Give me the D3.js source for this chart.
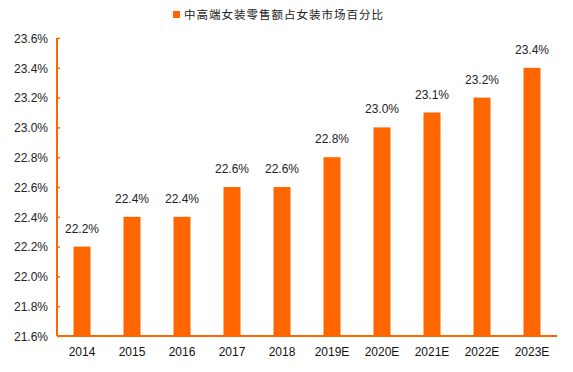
<!DOCTYPE html>
<html>
<head>
<meta charset="utf-8">
<script src="https://cdn.jsdelivr.net/npm/d3@7"></script>
<style>
  body { margin: 0; background: #fff; }
  svg text { font-family: "Liberation Sans", Arial, sans-serif; }
</style>
</head>
<body>
<div class="chart"></div>
<script>
var years = ['2014', '2015', '2016', '2017', '2018', '2019E', '2020E', '2021E', '2022E', '2023E']
var shares = [22.2, 22.4, 22.4, 22.6, 22.6, 22.8, 23.0, 23.1, 23.2, 23.4]
var yTicks = [21.6, 21.8, 22.0, 22.2, 22.4, 22.6, 22.8, 23.0, 23.2, 23.4, 23.6]
var seriesName = '中高端女装零售额占女装市场百分比'

var orange = '#ff6600'
var width = 573, height = 372
var margin = {left: 57, right: 16, top: 38, bottom: 36}

var svg = d3.select('.chart').append('svg')
  .attr('width', width).attr('height', height)

var x = d3.scaleBand()
  .domain(years)
  .range([margin.left, width - margin.right])
  .paddingInner(0.66).paddingOuter(0.33)

var y = d3.scaleLinear()
  .domain([21.6, 23.6])
  .range([height - margin.bottom, margin.top])

var fmt = d => d.toFixed(1) + '%'

// y axis
var yAxis = svg.append('g')
  .attr('transform', `translate(${margin.left},0)`)
  .call(d3.axisRight(y).tickValues(yTicks).tickSize(3).tickFormat(fmt))
yAxis.select('.domain').attr('stroke', orange).attr('stroke-width', 2)
  .attr('d', `M0,${y(23.6)}H0V${y(21.6)}`)
yAxis.selectAll('.tick line').attr('stroke', orange).attr('stroke-width', 1.5)
yAxis.selectAll('.tick text')
  .attr('x', -9).attr('text-anchor', 'end')
  .attr('fill', '#222').style('font-size', '12px')
  .attr('dy', '0.35em')

// bars
svg.append('g').selectAll('rect').data(years).join('rect')
  .attr('x', d => x(d))
  .attr('width', x.bandwidth())
  .attr('y', (d, i) => y(shares[i]))
  .attr('height', (d, i) => y(21.6) - y(shares[i]))
  .attr('fill', orange)

// value labels
svg.append('g').selectAll('text').data(years).join('text')
  .attr('x', d => x(d) + x.bandwidth() / 2)
  .attr('y', (d, i) => y(shares[i]) - 14)
  .attr('text-anchor', 'middle')
  .attr('fill', '#222')
  .style('font-size', '12px')
  .text((d, i) => fmt(shares[i]))

// x axis
var xAxis = svg.append('g')
  .attr('transform', `translate(0,${y(21.6)})`)
  .call(d3.axisBottom(x).tickSize(0).tickPadding(11))
xAxis.select('.domain').attr('stroke', orange).attr('stroke-width', 2)
  .attr('d', `M${margin.left},0H${width - margin.right}`)
xAxis.selectAll('.tick text').attr('fill', '#111').style('font-size', '12px')

// legend
var legend = svg.append('g').attr('transform', 'translate(173,8)')
legend.append('rect').attr('width', 7).attr('height', 7).attr('y', 3).attr('fill', orange)
legend.append('text')
  .attr('x', 11).attr('y', 11)
  .attr('fill', '#222')
  .style('font-family', '"Noto Sans CJK SC", sans-serif')
  .style('font-size', '11.5px')
  .style('letter-spacing', '1px')
  .text(seriesName)
</script>
</body>
</html>
